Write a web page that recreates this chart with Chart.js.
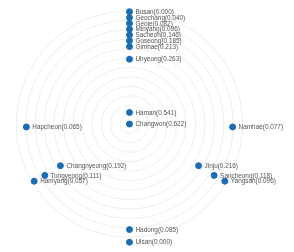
<!DOCTYPE html>
<html>
<head>
<meta charset="utf-8">
<script src="https://cdn.jsdelivr.net/npm/chart.js@4"></script>
<style>
  html, body { margin: 0; padding: 0; background: #fff; }
  #wrap { width: 294px; height: 252px; }
</style>
</head>
<body>
<div id="wrap"><canvas id="myChart"></canvas></div>
<script>
// 노드 이름, 값, 레이아웃 좌표 (중심 = Changwon)
const names = ["Busan", "Geochang", "Geoje", "Minyang", "Sacheon", "Goseong", "Gimhae", "Uiryeong",
  "Haman", "Changwon", "Hapcheon", "Namhae", "Changnyeong", "Tongyeong", "Hamyang",
  "Jinju", "Sancheong", "Yangsan", "Hadong", "Ulsan"];
const values = [0.000, 0.040, 0.082, 0.096, 0.146, 0.185, 0.213, 0.263,
  0.541, 0.622, 0.065, 0.077, 0.192, 0.111, 0.057,
  0.216, 0.118, 0.096, 0.085, 0.000];
const xs = [0, 0, 0, 0, 0, 0, 0, 0, 0, 0, -106, 106, -71, -87, -98, 71, 87, 98, 0, 0];
const ys = [116, 110, 104, 98, 92, 86, 80, 67, 12, 0, -3, -3, -43, -53, -59, -43, -53, -59, -109, -122];

// 배경 동심원 반지름
const rings = [9.7, 19.4, 29.1, 38.8, 48.5, 58.2, 67.9, 77.6, 87.3, 97, 106.7, 116.4];

const points = names.map((n, i) => ({ x: xs[i], y: ys[i] }));

const ringPlugin = {
  id: "rings",
  beforeDatasetsDraw(chart) {
    const { ctx, scales } = chart;
    const cx = scales.x.getPixelForValue(0);
    const cy = scales.y.getPixelForValue(0);
    ctx.save();
    ctx.strokeStyle = "rgba(0,0,0,0.07)";
    ctx.lineWidth = 1;
    rings.forEach((r) => {
      const rp = scales.x.getPixelForValue(r) - cx;
      ctx.beginPath();
      ctx.arc(cx, cy, rp, 0, Math.PI * 2);
      ctx.stroke();
    });
    ctx.restore();
  },
};

const labelPlugin = {
  id: "labels",
  afterDatasetsDraw(chart) {
    const { ctx } = chart;
    const meta = chart.getDatasetMeta(0);
    ctx.save();
    ctx.font = "6.4px 'Liberation Sans', Arial, sans-serif";
    ctx.fillStyle = "#555";
    ctx.textBaseline = "middle";
    meta.data.forEach((pt, i) => {
      ctx.fillText(names[i] + "(" + values[i].toFixed(3) + ")", pt.x + 6, pt.y + 0.5);
    });
    ctx.restore();
  },
};

const ctx = document.getElementById("myChart").getContext("2d");
const myChart = new Chart(ctx, {
  type: "scatter",
  data: {
    datasets: [
      {
        data: points,
        backgroundColor: "#1a6db3",
        borderColor: "#1a6db3",
        pointRadius: 3,
        pointHoverRadius: 3,
        clip: false,
      },
    ],
  },
  options: {
    responsive: true,
    maintainAspectRatio: false,
    animation: false,
    events: [],
    layout: { padding: 0 },
    plugins: { legend: { display: false }, tooltip: { enabled: false } },
    scales: {
      x: { type: "linear", min: -129, max: 165, display: false },
      y: { type: "linear", min: -128, max: 124, display: false },
    },
  },
  plugins: [ringPlugin, labelPlugin],
});
</script>
</body>
</html>
